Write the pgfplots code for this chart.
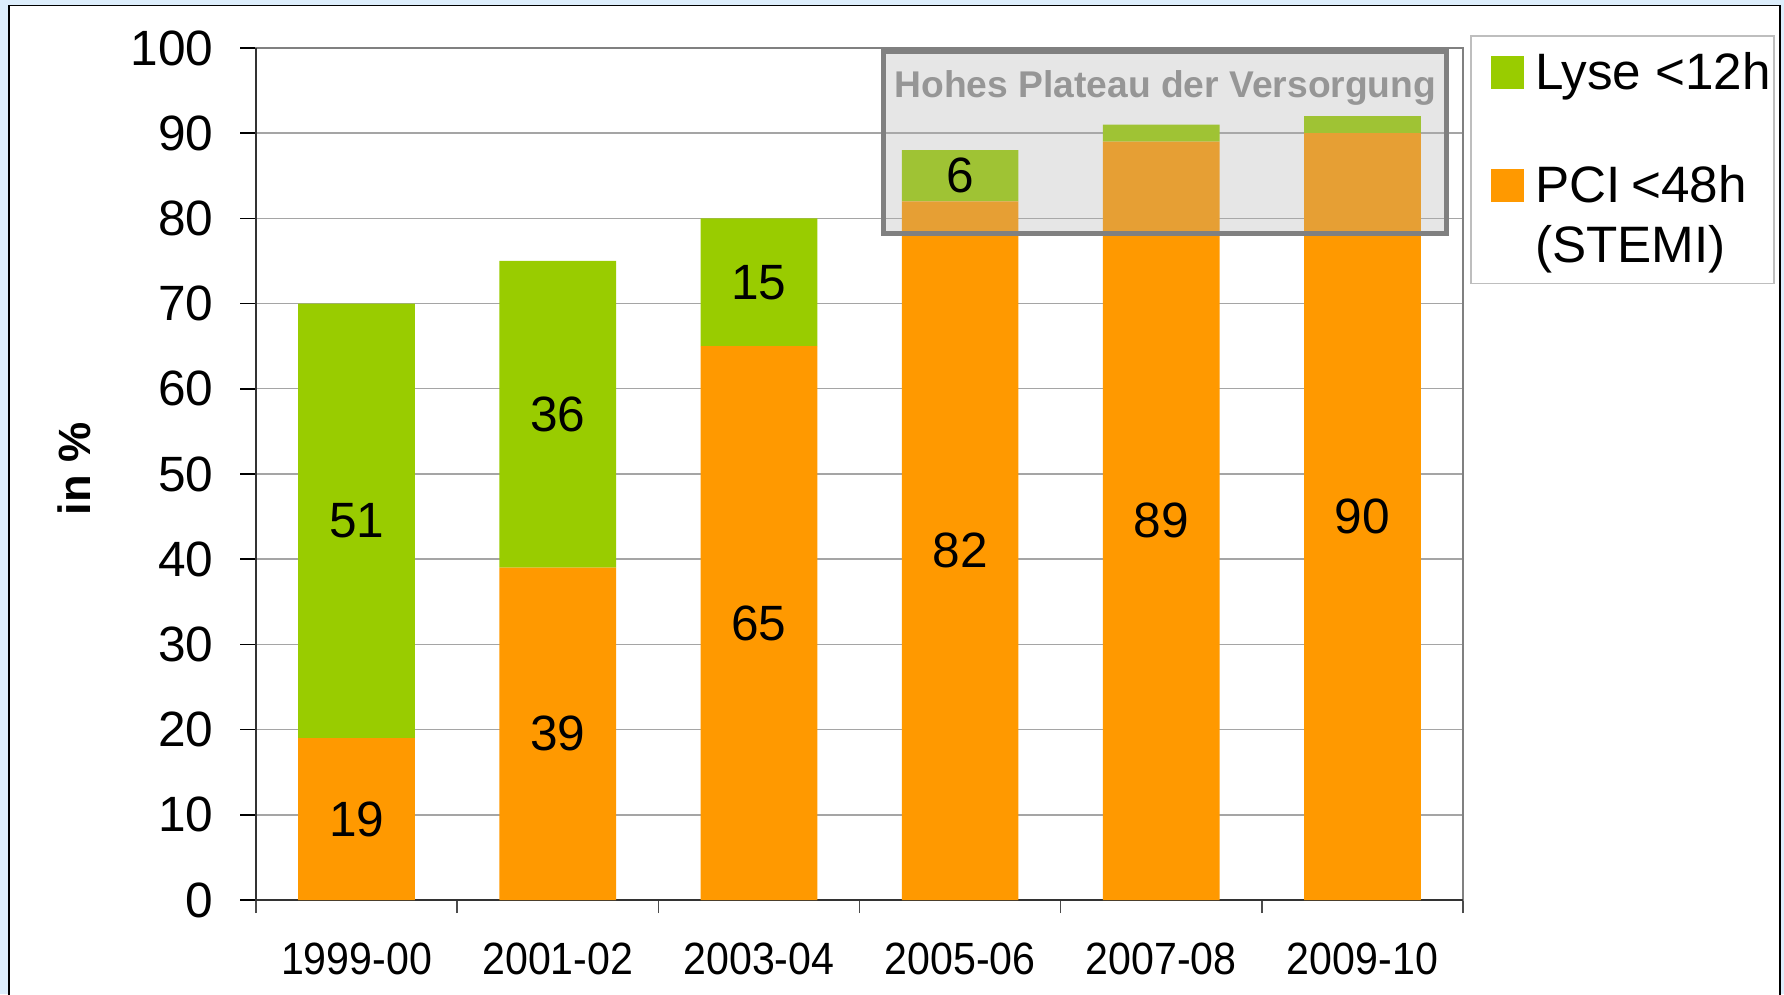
\documentclass[border=0pt]{standalone}
\usepackage{fontspec}
\setmainfont{Liberation Sans}
\newfontfamily\narrowfont{Liberation Sans}[FakeStretch=0.91]
\usepackage{pgfplots}
\usepackage{pgfplotstable}
\pgfplotsset{compat=1.18}
\definecolor{lyse}{RGB}{153,204,0}
\definecolor{pci}{RGB}{255,153,0}
\definecolor{bgblue}{RGB}{221,238,252}
\definecolor{gridgray}{RGB}{165,165,165}
\definecolor{boxgray}{RGB}{128,128,128}
\definecolor{boxfill}{RGB}{175,175,175}
\definecolor{titlegray}{RGB}{150,150,150}
\definecolor{axgray}{RGB}{128,128,128}
\definecolor{leggray}{RGB}{190,190,190}
\pgfplotstableread{
x pci lyse
0 19 51
1 39 36
2 65 15
3 82 6
4 89 2
5 90 2
}\datatable
\pgfplotstableread{
x y lbl
0 9.5 19
0 44.5 51
1 19.5 39
1 57 36
2 32.5 65
2 72.5 15
3 41 82
3 85 6
4 44.5 89
5 45 90
}\labeltable
\pgfplotsset{sqlegend/.style={legend image code/.code={\fill[##1] (0pt,0.1pt) rectangle (8.25pt,8.35pt); \path (-4.15pt,0pt);}}}
\begin{document}
\begin{tikzpicture}[x=1pt,y=1pt]
\useasboundingbox (0,0) rectangle (446,248.5);
\clip (0,0) rectangle (446,248.5);
\fill[bgblue] (0,0) rectangle (446,248.5);
\draw[fill=white, draw=black, line width=0.3pt] (2.25,-5) rectangle (445,247.2);
\begin{axis}[
  at={(64pt,23.5pt)}, anchor=south west,
  scale only axis, width=301.75pt, height=213pt,
  ybar stacked, bar width=0.58,
  xmin=-0.5, xmax=5.5, ymin=0, ymax=100,
  clip=false,
  xtick={0,...,5},
  xticklabels={1999-00,2001-02,2003-04,2005-06,2007-08,2009-10},
  minor xtick={-0.5,0.5,...,5.5},
  ytick={0,10,...,100},
  xtick pos=bottom, ytick pos=left,
  tick align=outside,
  major tick length=4pt,
  minor tick length=3.3pt,
  major x tick style={draw=none},
  minor x tick style={draw=black!70, line width=0.4pt},
  major y tick style={draw=black, line width=0.4pt},
  ymajorgrids, grid style={draw=gridgray, line width=0.35pt},
  axis line style={draw=axgray, line width=0.5pt},
  /pgf/number format/assume math mode=true,
  yticklabel style={font=\fontsize{12.4}{14}\selectfont, anchor=east, inner sep=0pt, xshift=-6.5pt},
  xticklabel style={font=\narrowfont\fontsize{11.3}{13}\selectfont, anchor=north, inner sep=0pt, yshift=-6.5pt},
  ylabel={in \%},
  ylabel style={font=\bfseries\fontsize{11.3}{13}\selectfont, at={(axis description cs:-0.1508,0.5059)}, anchor=center},
  legend style={at={(axis description cs:1.0058,1.0153)}, anchor=north west,
    draw=leggray, line width=0.4pt, fill=white,
    inner xsep=0.85pt, inner ysep=1.25pt,
    row sep=16.25pt, column sep=2.8pt,
    font=\fontsize{12.8}{15}\selectfont,
    nodes={inner sep=0pt, anchor=base west}},
  legend cell align=left,
  reverse legend,
]
\addplot[fill=pci, draw=none, sqlegend] table[x=x,y=pci] {\datatable};
\addlegendentry[text height=9.3pt, text depth=19.1pt]{\vtop{\hbox{PCI\kern0.22em<48h}\hbox{(STEMI)}}}
\addplot[fill=lyse, draw=none, sqlegend] table[x=x,y=lyse] {\datatable};
\addlegendentry[text height=12.1pt, text depth=2.7pt]{Lyse <12h}
\draw[black!80, line width=0.5pt] (rel axis cs:0,1) -- (rel axis cs:0,0) -- (rel axis cs:1,0);
\end{axis}
\begin{axis}[
  at={(64pt,23.5pt)}, anchor=south west,
  scale only axis, width=301.75pt, height=213pt,
  xmin=-0.5, xmax=5.5, ymin=0, ymax=100,
  hide axis, clip=false,
]
\addplot[draw=none, nodes near coords, point meta=explicit symbolic,
  every node near coord/.append style={anchor=center, inner sep=0pt, font=\fontsize{12.4}{14}\selectfont, text=black}]
  table[x=x,y=y,meta=lbl] {\labeltable};
\draw[draw=boxgray, line width=1.25pt, fill=boxfill, fill opacity=0.3] (axis cs:2.621,78.2) rectangle (axis cs:5.419,99.6);
\node[anchor=base, font=\bfseries\fontsize{9.3}{11}\selectfont, text=titlegray] at (axis cs:4.02,94.17) {Hohes Plateau der Versorgung};
\end{axis}
\end{tikzpicture}
\end{document}
